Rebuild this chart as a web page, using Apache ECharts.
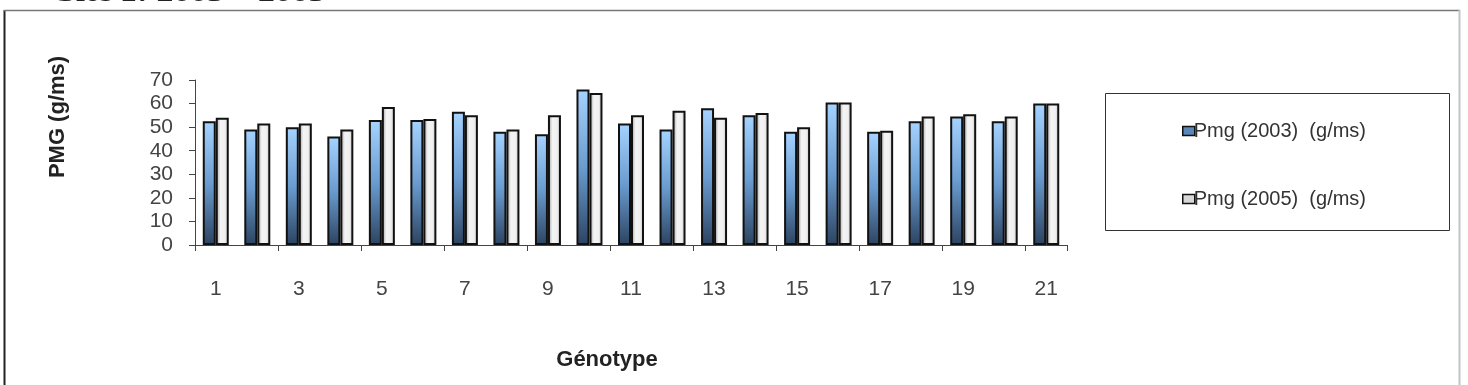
<!DOCTYPE html>
<html>
<head>
<meta charset="utf-8">
<script src="https://cdn.jsdelivr.net/npm/echarts@6/dist/echarts.min.js"></script>
<style>
html,body{margin:0;padding:0;background:#fff;}
#c{width:1468px;height:385px;}
</style>
</head>
<body>
<div id="c"></div>
<script>
const categories = ['1','2','3','4','5','6','7','8','9','10','11','12','13','14','15','16','17','18','19','20','21'];
const pmg2003 = [52.5, 49, 50, 46, 53, 53, 56.5, 48, 47, 66, 51.5, 49, 58, 55, 48, 60.5, 48, 52.5, 54.5, 52.5, 60];
const pmg2005 = [54, 51.5, 51.5, 49, 58.5, 53.5, 55, 49, 55, 64.5, 55, 57, 54, 56, 50, 60.5, 48.5, 54.5, 55.5, 54.5, 60];
const seriesNames = ['Pmg (2003)  (g/ms)', 'Pmg (2005)  (g/ms)'];
const yTicks = {min: 0, max: 70, interval: 10};

const chart = echarts.init(document.getElementById('c'));
const blueGrad = new echarts.graphic.LinearGradient(0, 0, 0, 1, [
  {offset: 0, color: '#a6d3ff'},
  {offset: 0.5, color: '#6a9cd0'},
  {offset: 1, color: '#2c4361'}
]);
const grayGrad = new echarts.graphic.LinearGradient(0, 0, 1, 0, [
  {offset: 0, color: '#9a9a9a'},
  {offset: 0.35, color: '#f4f4f4'},
  {offset: 0.7, color: '#f0f0f0'},
  {offset: 1, color: '#bdbdbd'}
]);
const font = 'Liberation Sans, Arial, sans-serif';

chart.setOption({
  animation: false,
  grid: {left: 195, right: 401, top: 80, bottom: 140},
  graphic: [
    {type: 'line', shape: {x1: 4.5, y1: 10, x2: 4.5, y2: 400}, style: {stroke: '#222', lineWidth: 2}},
    {type: 'line', shape: {x1: 4, y1: 10.5, x2: 1460, y2: 10.5}, style: {stroke: '#777', lineWidth: 1.5}},
    {type: 'line', shape: {x1: 1459.5, y1: 10, x2: 1459.5, y2: 400}, style: {stroke: '#c4c4c4', lineWidth: 2}},
    {type: 'text', x: 57, y: 7, scaleX: 1.3, style: {text: 'Site 1: 2003 – 2005', font: 'bold 26px Liberation Serif, serif', fill: '#222', verticalAlign: 'bottom'}},
    {type: 'rect', shape: {x: 1105.5, y: 93.5, width: 344, height: 137}, style: {fill: 'none', stroke: '#333', lineWidth: 1}},
    {type: 'text', x: 58, y: 117, rotation: Math.PI / 2, style: {text: 'PMG (g/ms)', font: 'bold 22px ' + font, fill: '#222', align: 'center', verticalAlign: 'middle'}},
    {type: 'text', x: 607, y: 360, style: {text: 'Génotype', font: 'bold 22px ' + font, fill: '#222', align: 'center', verticalAlign: 'middle'}}
  ],
  legend: {
    orient: 'vertical',
    left: 1177,
    top: 116,
    itemGap: 48,
    itemWidth: 12,
    itemHeight: 9,
    icon: 'rect',
    textStyle: {fontFamily: font, fontSize: 20, color: '#333', padding: [0, 0, 0, -6]},
    data: [
      {name: seriesNames[0], itemStyle: {color: '#5a86b8', borderColor: '#111', borderWidth: 1.5}},
      {name: seriesNames[1], itemStyle: {color: '#d8d8d8', borderColor: '#111', borderWidth: 1.5}}
    ]
  },
  xAxis: {
    type: 'category',
    data: categories,
    axisLine: {lineStyle: {color: '#444', width: 1}},
    axisTick: {show: true, length: 6, lineStyle: {color: '#444'}},
    axisLabel: {interval: 1, margin: 34, fontFamily: font, fontSize: 21, color: '#444'}
  },
  yAxis: {
    type: 'value',
    min: yTicks.min, max: yTicks.max, interval: yTicks.interval,
    splitLine: {show: false},
    axisLine: {show: true, lineStyle: {color: '#444', width: 1}},
    axisTick: {show: true, length: 6, lineStyle: {color: '#444'}},
    axisLabel: {margin: 22, fontFamily: font, fontSize: 21, color: '#444', lineHeight: 21}
  },
  series: [
    {name: seriesNames[0], type: 'bar', data: pmg2003, barWidth: 13, barGap: '0%',
     itemStyle: {color: blueGrad, borderColor: '#111', borderWidth: 2}},
    {name: seriesNames[1], type: 'bar', data: pmg2005, barWidth: 13, barGap: '0%',
     itemStyle: {color: grayGrad, borderColor: '#111', borderWidth: 2}}
  ]
});
</script>
</body>
</html>
